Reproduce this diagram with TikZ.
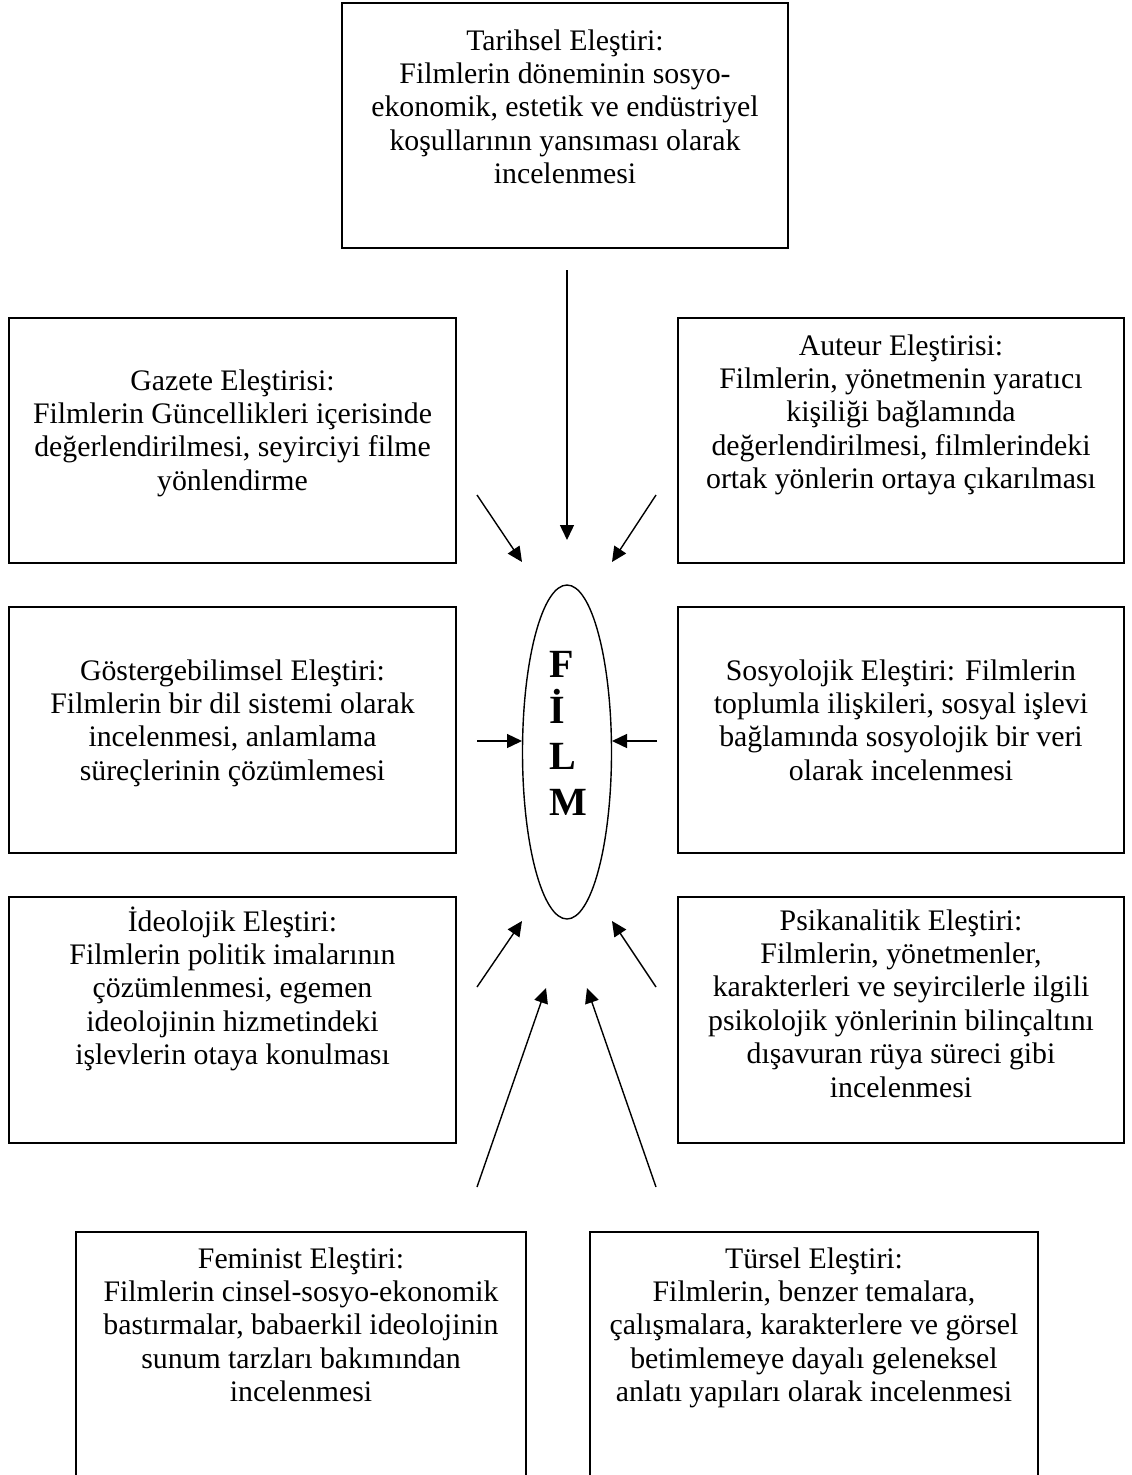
\documentclass[tikz,border=0pt]{standalone}
\usepackage{fontspec}
\setmainfont{Liberation Serif}
\usetikzlibrary{shapes.geometric,arrows.meta}
\begin{document}
\begin{tikzpicture}[x=1pt,y=-1pt,
  box/.style={draw, line width=1.6pt, inner sep=0pt},
  openbox/.style={draw=none, inner sep=0pt},
  txt/.style={align=center, inner sep=0pt, anchor=base, font=\fontsize{29.8}{33.4}\selectfont},
  arr/.style={line width=1.4pt, -{Triangle[length=15pt,width=14pt]}}]
\useasboundingbox (0,0) rectangle (1132,1475);
\fill[white] (0,0) rectangle (1132,1475);

% boxes
\node[box, minimum width=446pt, minimum height=245pt] (tarihsel) at (565,125.5) {};
\node[box, minimum width=447pt, minimum height=245pt] (gazete) at (232.5,440.5) {};
\node[box, minimum width=446pt, minimum height=245pt] (auteur) at (901,440.5) {};
\node[box, minimum width=447pt, minimum height=246pt] (gosterge) at (232.5,730) {};
\node[box, minimum width=446pt, minimum height=246pt] (sosyo) at (901,730) {};
\node[box, minimum width=447pt, minimum height=246pt] (ideo) at (232.5,1020) {};
\node[box, minimum width=446pt, minimum height=246pt] (psika) at (901,1020) {};
\node[openbox, minimum width=450pt, minimum height=243pt] (feminist) at (301,1353.5) {};
\node[openbox, minimum width=448pt, minimum height=243pt] (tursel) at (814,1353.5) {};
\draw[line width=1.6pt] (feminist.south west) -- (feminist.north west) -- (feminist.north east) -- (feminist.south east);
\draw[line width=1.6pt] (tursel.south west) -- (tursel.north west) -- (tursel.north east) -- (tursel.south east);

% texts (anchored at the baseline of the last line)
\node[txt] (tarihselT) at (565,183.6) {Tarihsel Eleştiri:\\Filmlerin döneminin sosyo-\\ekonomik, estetik ve endüstriyel\\koşullarının yansıması olarak\\incelenmesi};
\node[txt] (gazeteT) at (232.5,490.2) {Gazete Eleştirisi:\\Filmlerin Güncellikleri içerisinde\\değerlendirilmesi, seyirciyi filme\\yönlendirme};
\node[txt] (auteurT) at (901,488.6) {Auteur Eleştirisi:\\Filmlerin, yönetmenin yaratıcı\\kişiliği bağlamında\\değerlendirilmesi, filmlerindeki\\ortak yönlerin ortaya çıkarılması};
\node[txt] (gostergeT) at (232.5,780.2) {Göstergebilimsel Eleştiri:\\Filmlerin bir dil sistemi olarak\\incelenmesi, anlamlama\\süreçlerinin çözümlemesi};
\node[txt] (sosyoT) at (901,780.2) {Sosyolojik Eleştiri: Filmlerin\\toplumla ilişkileri, sosyal işlevi\\bağlamında sosyolojik bir veri\\olarak incelenmesi};
\node[txt] (ideoT) at (232.5,1064.6) {İdeolojik Eleştiri:\\Filmlerin politik imalarının\\çözümlenmesi, egemen\\ideolojinin hizmetindeki\\işlevlerin otaya konulması};
\node[txt] (psikaT) at (901,1097) {Psikanalitik Eleştiri:\\Filmlerin, yönetmenler,\\karakterleri ve seyircilerle ilgili\\psikolojik yönlerinin bilinçaltını\\dışavuran rüya süreci gibi\\incelenmesi};
\node[txt] (feministT) at (301,1401.6) {Feminist Eleştiri:\\Filmlerin cinsel-sosyo-ekonomik\\bastırmalar, babaerkil ideolojinin\\sunum tarzları bakımından\\incelenmesi};
\node[txt] (turselT) at (814,1401.6) {Türsel Eleştiri:\\Filmlerin, benzer temalara,\\çalışmalara, karakterlere ve görsel\\betimlemeye dayalı geleneksel\\anlatı yapıları olarak incelenmesi};

% centre
\node[draw, ellipse, line width=1.4pt, minimum width=89pt, minimum height=334pt, inner sep=0pt] (film) at (567,752) {};
\node[align=left, anchor=base west, inner sep=0pt, font=\bfseries\fontsize{40}{45.7}\selectfont] (filmT) at (549,815) {F\\İ\\L\\M};

% arrow end points
\coordinate (s1) at (567,270);  \coordinate (e1) at (567,540);
\coordinate (s2) at (477,495);  \coordinate (e2) at (522,562);
\coordinate (s3) at (656,495);  \coordinate (e3) at (612,562);
\coordinate (s4) at (477,741);  \coordinate (e4) at (522,741);
\coordinate (s5) at (657,741);  \coordinate (e5) at (612,741);
\coordinate (s6) at (477,987);  \coordinate (e6) at (522,921);
\coordinate (s7) at (656,987);  \coordinate (e7) at (612,921);
\coordinate (s8) at (477,1187); \coordinate (e8) at (546,988);
\coordinate (s9) at (656,1187); \coordinate (e9) at (587,988);

\foreach \i in {1,...,9} \draw[arr] (s\i) -- (e\i);
\end{tikzpicture}
\end{document}
